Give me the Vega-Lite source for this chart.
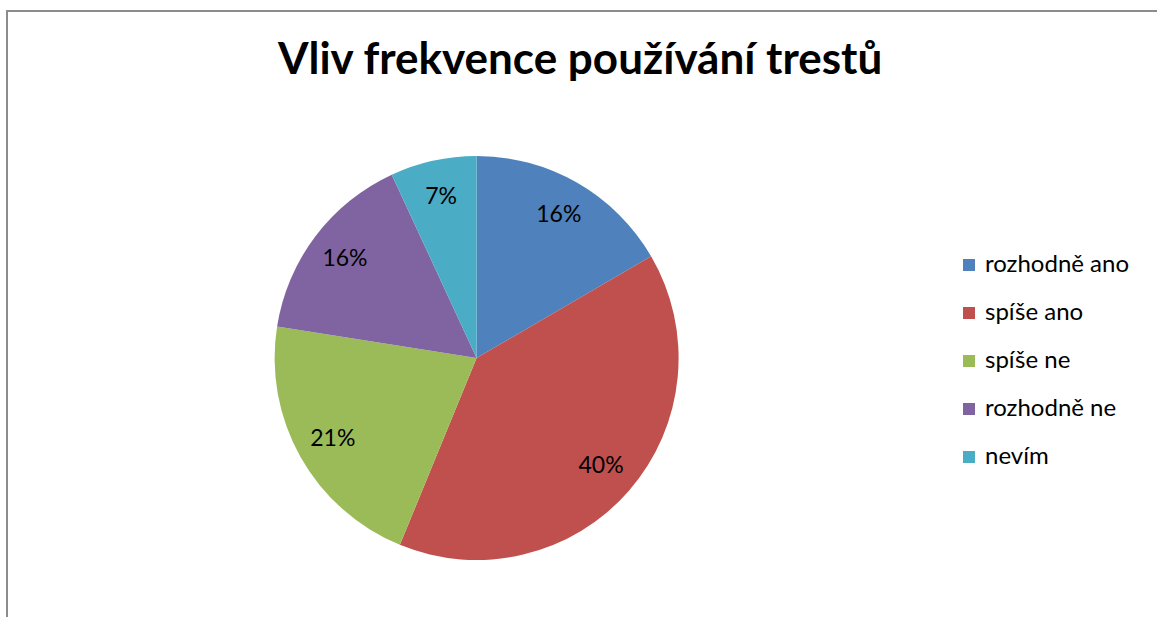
{
  "$schema": "https://vega.github.io/schema/vega-lite/v6.json",
  "autosize": {"type": "none"},
  "padding": {"left": 7, "top": 11, "right": 0, "bottom": 0},
  "width": 1174,
  "height": 694,
  "background": "white",
  "config": {
    "view": {"stroke": "#8c8c8c", "strokeWidth": 2},
    "font": "Lato"
  },
  "title": {
    "text": "Vliv frekvence používání trestů",
    "font": "Lato",
    "fontSize": 44,
    "fontWeight": "bold",
    "color": "#000000",
    "anchor": "start",
    "frame": "group",
    "orient": "top",
    "baseline": "alphabetic",
    "offset": 0,
    "dx": 271,
    "dy": 107
  },
  "data": {
    "values": [
      {"kategorie": "rozhodně ano", "podil": 16.6, "popisek": "16%", "poradi": 1},
      {"kategorie": "spíše ano", "podil": 39.6, "popisek": "40%", "poradi": 2},
      {"kategorie": "spíše ne", "podil": 21.3, "popisek": "21%", "poradi": 3},
      {"kategorie": "rozhodně ne", "podil": 15.6, "popisek": "16%", "poradi": 4},
      {"kategorie": "nevím", "podil": 6.9, "popisek": "7%", "poradi": 5}
    ]
  },
  "encoding": {
    "theta": {"field": "podil", "type": "quantitative", "stack": true},
    "order": {"field": "poradi", "type": "quantitative"},
    "x": {"datum": 0.4, "type": "quantitative", "scale": {"domain": [0, 1]}, "axis": null},
    "color": {
      "field": "kategorie",
      "type": "nominal",
      "sort": null,
      "scale": {
        "domain": ["rozhodně ano", "spíše ano", "spíše ne", "rozhodně ne", "nevím"],
        "range": ["#4F81BD", "#C0504D", "#9BBB59", "#8064A2", "#4BACC6"]
      },
      "legend": {
        "title": null,
        "orient": "none",
        "legendX": 950,
        "legendY": 242,
        "symbolType": "square",
        "symbolSize": 144,
        "symbolStrokeWidth": 0,
        "labelFont": "Lato",
        "labelFontSize": 24,
        "labelColor": "#000000",
        "labelOffset": 4,
        "rowPadding": 24,
        "labelLimit": 300
      }
    }
  },
  "layer": [
    {"mark": {"type": "arc", "outerRadius": 202, "stroke": null}},
    {
      "mark": {"type": "text", "radius": 165, "font": "Lato", "fontSize": 23, "color": "#000000"},
      "encoding": {
        "text": {"field": "popisek", "type": "nominal"},
        "color": {"value": "#000000"}
      }
    }
  ]
}
